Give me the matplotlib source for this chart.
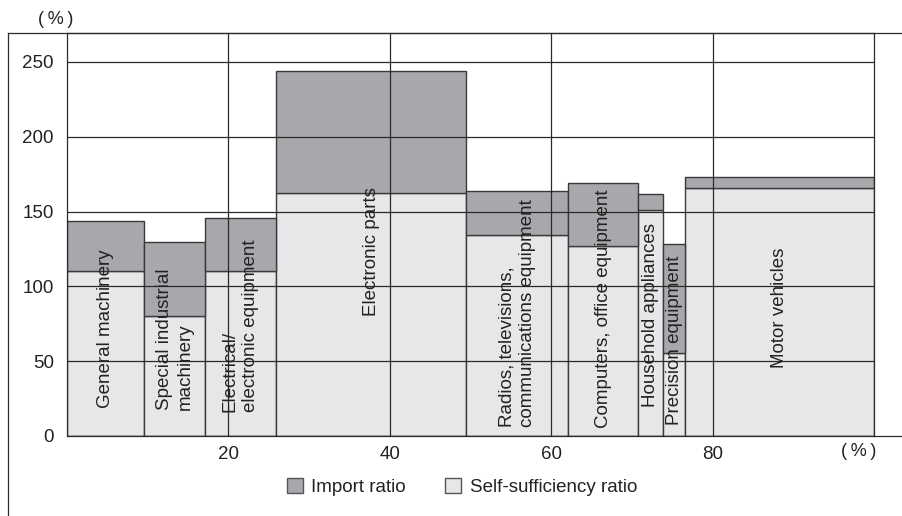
import matplotlib.pyplot as plt
from matplotlib.lines import Line2D
from matplotlib.patches import Patch
import numpy as np

plt.rcParams['font.family'] = ['Liberation Sans', 'DejaVu Sans']

# share of each industry (bar width, %) and ratios (%)
categories = ['General machinery', 'Special industrial\nmachinery', 'Electrical/\nelectronic equipment',
              'Electronic parts', 'Radios, televisions,\ncommunications equipment',
              'Computers, office equipment', 'Household appliances', 'Precision equipment', 'Motor vehicles']
shares = [9.55, 7.6, 8.7, 23.65, 12.6, 8.7, 3.1, 2.65, 23.45]
self_sufficiency = [110, 80, 110, 162.6, 134.4, 127, 151.3, 55.3, 165.6]
import_ratio = [33.7, 50, 36, 81.4, 29.6, 42.3, 10.7, 73, 7.7]

# vertical position of each rotated label (layout only)
label_y = [72, 65, 73.5, 123, 82, 85, 81, 64, 86]

dark = '#a7a8ab'
light = '#e6e7e9'
edge = '#3a3a3a'
txt = '#222222'
fs = 13.5

W, H = 903, 516
fig = plt.figure(figsize=(W / 100, H / 100), dpi=100)
ax = fig.add_axes([67 / W, 1 - 436 / H, (874 - 67) / W, (436 - 33) / H])

lefts = np.concatenate([[0], np.cumsum(shares)[:-1]])
ax.bar(lefts, self_sufficiency, width=shares, align='edge', color=light, edgecolor=edge, linewidth=1, zorder=1)
ax.bar(lefts, import_ratio, width=shares, bottom=self_sufficiency, align='edge', color=dark,
       edgecolor=edge, linewidth=1, zorder=1)

for left, w, name, y in zip(lefts, shares, categories, label_y):
    ax.text(left + w / 2, y, name, rotation=90, ha='center', va='center', multialignment='left',
            fontsize=fs, color=txt, zorder=3, linespacing=1.28)

ax.set_xlim(0, 100)
ax.set_ylim(0, (436 - 33) / 1.496)
ax.set_yticks([0, 50, 100, 150, 200, 250])
ax.set_xticks([20, 40, 60, 80])
ax.tick_params(length=0, labelsize=fs, labelcolor=txt)
ax.tick_params(axis='y', pad=9.4)
ax.tick_params(axis='x', pad=7)
ax.set_axisbelow(False)
ax.grid(True, color='#2a2a2a', linewidth=0.9)
for s in ax.spines.values():
    s.set_color('#2a2a2a')
    s.set_linewidth(0.9)

# outer frame and extended x-axis line
fig.add_artist(Line2D([8 / W, 8 / W], [0, 1 - 33 / H], color='#2a2a2a', lw=0.9))
fig.add_artist(Line2D([8 / W, 1], [1 - 33 / H, 1 - 33 / H], color='#2a2a2a', lw=0.9))
fig.add_artist(Line2D([874 / W, 1], [1 - 436 / H, 1 - 436 / H], color='#2a2a2a', lw=0.9))

pct = '(\u2009%\u2009)'
fig.text(56 / W, 1 - 20 / H, pct, ha='center', va='center', fontsize=fs - 0.5, color=txt)
fig.text(859 / W, 1 - 452 / H, pct, ha='center', va='center', fontsize=fs - 0.5, color=txt)

handles = [Patch(facecolor=dark, edgecolor='#555555', label='Import ratio'),
           Patch(facecolor=light, edgecolor='#555555', label='Self-sufficiency ratio')]
fig.legend(handles=handles, loc='center', bbox_to_anchor=(462 / W, 1 - 487 / H), ncol=2, frameon=False,
           fontsize=fs, handlelength=0.85, handleheight=0.85, handletextpad=0.45, columnspacing=2.1,
           labelcolor=txt)

fig.savefig('out.png', dpi=100)
